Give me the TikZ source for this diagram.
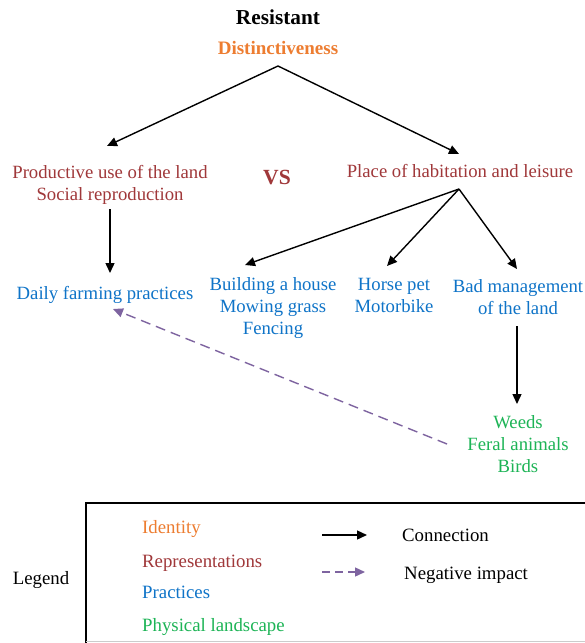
\documentclass[tikz,border=0pt]{standalone}
\usepackage{fontspec}
\setmainfont{Liberation Serif}
\usetikzlibrary{arrows.meta,calc}
\definecolor{idcol}{HTML}{ED7D31}
\definecolor{repcol}{HTML}{A0383A}
\definecolor{praccol}{HTML}{0F74C8}
\definecolor{physcol}{HTML}{1DB456}
\definecolor{negcol}{HTML}{7E64A0}
\tikzset{
  txt/.style={inner sep=0pt, align=center, font=\fontsize{18.7}{22}\selectfont},
  idt/.style={txt, text=idcol, font=\fontsize{19}{22}\selectfont\bfseries},
  rep/.style={txt, text=repcol},
  prac/.style={txt, text=praccol},
  phys/.style={txt, text=physcol},
  legtxt/.style={inner sep=0pt, anchor=west, font=\fontsize{18.8}{22}\selectfont},
  conn/.style={line width=1.4pt, -{Triangle[length=10pt,width=9pt]}},
  neg/.style={line width=1.4pt, negcol, dash pattern=on 10pt off 6pt, -{Triangle[length=10pt,width=9pt]}},
}
\begin{document}
\begin{tikzpicture}[x=1pt,y=-1pt]
\useasboundingbox (0,0) rectangle (585,643);
\clip (0,0) rectangle (585,643);
\fill[white] (0,0) rectangle (585,643);
% top
\node[txt, font=\fontsize{21.3}{24}\selectfont\bfseries] (res) at (278,17) {Resistant};
\node[idt] (dist) at (278,48) {Distinctiveness};
\node[rep] (prod) at (110,184.5) {Productive use of the land\\Social reproduction};
\node[rep, font=\fontsize{21.6}{24}\selectfont\bfseries] (vs) at (277,178) {VS};
\node[rep] (place) at (460,171) {Place of habitation and leisure};
\node[prac] (daily) at (105,295) {Daily farming practices};
\node[prac] (build) at (273,308) {Building a house\\Mowing grass\\Fencing};
\node[prac] (horse) at (394,295.5) {Horse pet\\Motorbike};
\node[prac] (bad) at (518,297) {Bad management\\of the land};
\node[phys] (weeds) at (518,444) {Weeds\\Feral animals\\Birds};
% connectors
\draw[conn] ($(dist)+(0,18)$) -- ($(prod)+(-3,-38.5)$);
\draw[conn] ($(dist)+(0,18)$) -- ($(place)+(-1,-17)$);
\draw[conn] ($(prod)+(0,24.5)$) -- ($(daily)+(5,-22)$);
\draw[conn] ($(place)+(-1,18)$) -- ($(build)+(-28,-43)$);
\draw[conn] ($(place)+(-1,18)$) -- ($(horse)+(-7,-29.5)$);
\draw[conn] ($(place)+(-1,18)$) -- ($(bad)+(-1,-28)$);
\draw[conn] ($(bad)+(-1,29)$) -- ($(weeds)+(-1,-40)$);
\draw[neg] ($(weeds)+(-71,0)$) -- ($(daily)+(8,14)$);
% legend
\draw[line width=1.6pt] (86,660) -- (86,503) -- (600,503);
\draw[gray!40, line width=0.8pt] (86,641.5) -- (600,641.5);
\node[legtxt, anchor=center] (leg) at (41,580) {Legend};
\node[legtxt, text=idcol] (lid) at (142,529) {Identity};
\node[legtxt, text=repcol] (lrep) at (142,563) {Representations};
\node[legtxt, text=praccol] (lprac) at (142,592) {Practices};
\node[legtxt, text=physcol] (lphys) at (142,627) {Physical landscape};
\node[legtxt] (lconn) at (402,535) {Connection};
\node[legtxt] (lneg) at (404,575) {Negative impact};
\coordinate (ca) at (322,535);
\coordinate (na) at (322,572);
\draw[conn] (ca) -- ($(lconn.west)+(-35,0)$);
\draw[neg, dash pattern=on 8pt off 5pt] (na) -- ($(lneg.west)+(-39,-3)$);
\end{tikzpicture}
\end{document}
